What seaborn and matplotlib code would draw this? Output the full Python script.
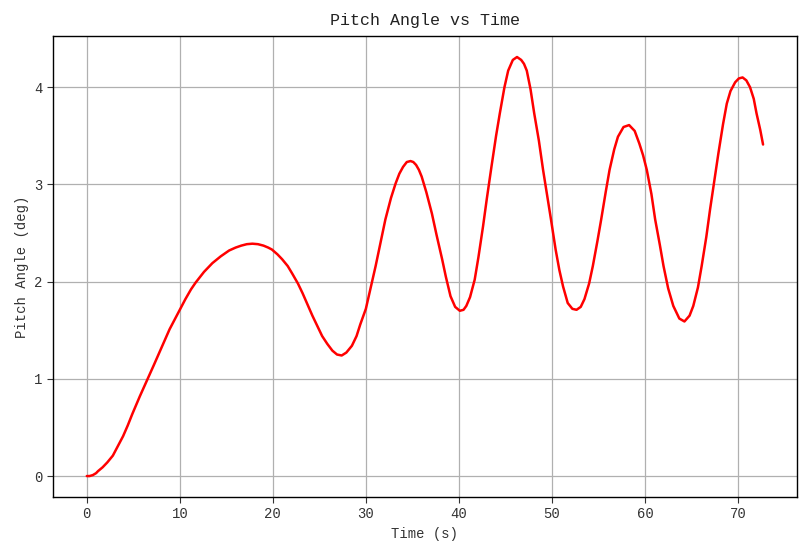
import matplotlib
matplotlib.use("Agg")
import matplotlib.pyplot as plt
import seaborn as sns
import pandas as pd

time_s = [0, 0.3, 0.65, 1.0, 1.2, 1.7, 2.2, 2.8, 3.3, 3.9, 4.4, 4.9, 5.7, 6.55,
          7.2, 7.8, 8.9, 10.0, 10.6, 11.2, 11.7, 12.6, 13.5, 14.4, 15.3, 16.0, 16.6,
          17.2, 17.8, 18.4, 19.0, 19.5, 19.9, 20.5, 21.0, 21.6, 22.1, 22.7, 23.2,
          23.7, 24.25, 24.8, 25.3, 25.85, 26.4, 26.9, 27.4, 27.9, 28.5, 29.0,
          29.4, 30.0, 30.5, 31.05, 31.6, 32.1, 32.7, 33.2, 33.6, 34.0, 34.4, 34.8,
          35.1, 35.4, 35.7, 36.0, 36.5, 37.1, 37.6, 38.2, 38.6, 39.1, 39.6, 40.1,
          40.5, 40.8, 41.2, 41.7, 42.1, 42.6, 43.0, 43.5, 44.0, 44.4, 44.9, 45.3,
          45.8, 46.25, 46.7, 47.0, 47.3, 47.7, 48.1, 48.6, 49.05, 49.5, 49.9, 50.4,
          50.8, 51.2, 51.7, 52.2, 52.65, 53.1, 53.5, 54.0, 54.4, 54.9, 55.3, 55.8,
          56.2, 56.7, 57.1, 57.7, 58.3, 58.9, 59.4, 59.8, 60.2, 60.7, 61.1, 61.6,
          62.0, 62.5, 63.05, 63.7, 64.25, 64.8, 65.2, 65.7, 66.1, 66.6, 67.0, 67.5,
          67.9, 68.4, 68.8, 69.2, 69.7, 70.1, 70.5, 70.9, 71.3, 71.7, 72.0, 72.4,
          72.7]
pitch_deg = [0.00, 0.00, 0.01, 0.03, 0.05, 0.09, 0.14, 0.21, 0.30, 0.41, 0.52,
             0.64, 0.82, 1.00, 1.14, 1.27, 1.51, 1.71, 1.82, 1.92, 1.99, 2.10, 2.19,
             2.26, 2.32, 2.35, 2.37, 2.385, 2.39, 2.385, 2.37, 2.35, 2.33, 2.28,
             2.23, 2.16, 2.08, 1.98, 1.88, 1.77, 1.65, 1.54, 1.44, 1.36, 1.29,
             1.25, 1.24, 1.27, 1.34, 1.44, 1.56, 1.72, 1.93, 2.16, 2.41, 2.64,
             2.86, 3.01, 3.11, 3.18, 3.23, 3.24, 3.23, 3.20, 3.15, 3.08, 2.92,
             2.70, 2.48, 2.23, 2.05, 1.85, 1.74, 1.70, 1.71, 1.75, 1.84, 2.02,
             2.25, 2.57, 2.85, 3.18, 3.50, 3.73, 4.00, 4.17, 4.28, 4.31, 4.28,
             4.24, 4.17, 3.98, 3.73, 3.45, 3.15, 2.88, 2.64, 2.33, 2.12, 1.95,
             1.78, 1.72, 1.71, 1.74, 1.82, 1.98, 2.16, 2.42, 2.64, 2.93, 3.15,
             3.36, 3.49, 3.59, 3.61, 3.55, 3.42, 3.30, 3.15, 2.90, 2.64, 2.38,
             2.16, 1.93, 1.75, 1.62, 1.59, 1.65, 1.75, 1.94, 2.16, 2.46, 2.74,
             3.06, 3.32, 3.62, 3.83, 3.96, 4.05, 4.09, 4.10, 4.07, 4.00, 3.88,
             3.73, 3.56, 3.41]

df = pd.DataFrame({"Time (s)": time_s, "Pitch Angle (deg)": pitch_deg})

sns.set_theme(style="ticks")
plt.rcParams["font.family"] = ["Liberation Mono", "DejaVu Sans Mono"]
plt.rcParams["axes.edgecolor"] = "black"
plt.rcParams["axes.linewidth"] = 1.0

fig = plt.figure(figsize=(8.09, 5.55), dpi=100)
ax = fig.add_axes([0.0655, 0.1045, 0.9195, 0.8305])
sns.lineplot(data=df, x="Time (s)", y="Pitch Angle (deg)", color="red",
             linewidth=1.8, ax=ax, sort=False)
ax.grid(True, color="#b0b0b0", linewidth=0.9)
ax.set_axisbelow(True)
for s in ax.spines.values():
    s.set_visible(True)
    s.set_color("black")
ax.tick_params(axis="both", labelsize=10, colors="#333333", length=4, width=0.8)
ax.set_xlabel("Time (s)", fontsize=10, color="#333333")
ax.set_ylabel("Pitch Angle (deg)", fontsize=10, color="#333333")
ax.set_title("Pitch Angle vs Time", fontsize=12, color="#222222", pad=8)
ax.set_xticks([0, 10, 20, 30, 40, 50, 60, 70])
ax.set_yticks([0, 1, 2, 3, 4])
ax.margins(x=0.05, y=0.05)
fig.savefig("out.png", dpi=100)
